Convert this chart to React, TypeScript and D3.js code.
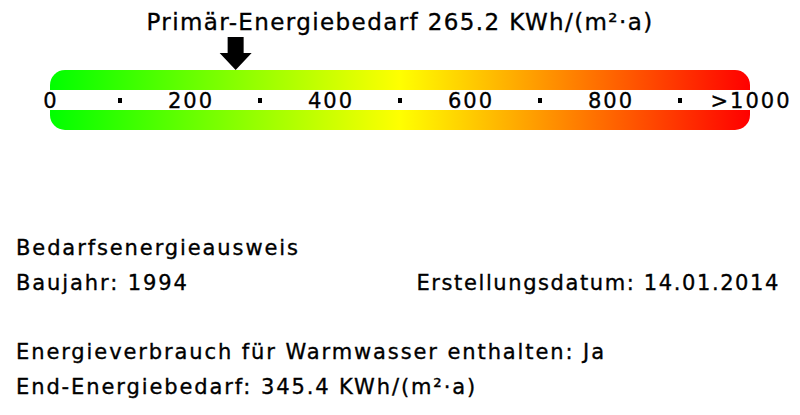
import React from 'react';
import * as d3 from 'd3';

const majorTicks = [0, 200, 400, 600, 800, 1000];
const majorLabels = ['0', '200', '400', '600', '800', '>1000'];
const minorTicks = [100, 300, 500, 700, 900];
const primaryValue = 265.2;
const unit = 'KWh/(m²·a)';

const infoLines = [
  'Bedarfsenergieausweis',
  'Baujahr: 1994',
  '',
  'Energieverbrauch für Warmwasser enthalten: Ja',
  'End-Energiebedarf: 345.4 ' + unit,
];
const dateLabel = 'Erstellungsdatum: 14.01.2014';

const gradientStops = [
  { offset: '0%', color: '#00ff00' },
  { offset: '50%', color: '#ffff00' },
  { offset: '100%', color: '#ff0000' },
];

const App: React.FC = () => {
  const width = 800;
  const height = 415;
  const font = '"DejaVu Sans", sans-serif';
  // the original font is a bit heavier than DejaVu, a thin stroke helps
  const textStyle = { stroke: '#000', strokeWidth: 0.35 };

  // value scale across the bar
  const x = d3.scaleLinear().domain([0, 1000]).range([50, 750]);

  const barTop = 70;
  const barBottom = 130;
  const stripeTop = 90;
  const stripeBottom = 110;

  const ax = x(primaryValue);
  const arrow = d3.path();
  arrow.moveTo(ax - 8, 37);
  arrow.lineTo(ax + 8, 37);
  arrow.lineTo(ax + 8, 53);
  arrow.lineTo(ax + 16, 53);
  arrow.lineTo(ax, 70);
  arrow.lineTo(ax - 16, 53);
  arrow.lineTo(ax - 8, 53);
  arrow.closePath();

  const lineY = d3.scalePoint<number>().domain(d3.range(infoLines.length)).range([255, 394]);

  return (
    <svg
      width={width}
      height={height}
      style={{ position: 'absolute', left: 0, top: 0, background: '#fff' }}
      fontFamily={font}
    >
      <defs>
        <linearGradient id="scaleGrad" x1="0%" x2="100%" y1="0%" y2="0%">
          {gradientStops.map((s) => (
            <stop key={s.offset} offset={s.offset} stopColor={s.color} />
          ))}
        </linearGradient>
      </defs>

      <text x={400} y={30} textAnchor="middle" fontSize={23} letterSpacing={1.4} fill="#000" style={textStyle}>
        {'Primär-Energiebedarf ' + primaryValue.toFixed(1) + ' ' + unit}
      </text>

      <path d={arrow.toString()} fill="#000" />

      <rect
        x={x(0)}
        y={barTop}
        width={x(1000) - x(0)}
        height={barBottom - barTop}
        rx={15}
        ry={15}
        fill="url(#scaleGrad)"
      />
      <rect x={x(0)} y={stripeTop} width={x(1000) - x(0)} height={stripeBottom - stripeTop} fill="#fff" />

      {minorTicks.map((t) => (
        <rect key={t} x={x(t) - 2} y={98} width={4} height={5} fill="#000" />
      ))}
      {majorTicks.map((t, i) => (
        <text
          key={t}
          x={x(t) + 1}
          y={108}
          textAnchor="middle"
          fontSize={21}
          letterSpacing={2}
          fill="#000"
          style={textStyle}
        >
          {majorLabels[i]}
        </text>
      ))}

      {infoLines.map((line, i) =>
        line ? (
          <text key={i} x={16} y={lineY(i)} fontSize={21} letterSpacing={1.9} fill="#000" style={textStyle}>
            {line}
          </text>
        ) : null
      )}
      <text x={780} y={lineY(1)} textAnchor="end" fontSize={21} letterSpacing={1.6} fill="#000" style={textStyle}>
        {dateLabel}
      </text>
    </svg>
  );
};

export default App;
